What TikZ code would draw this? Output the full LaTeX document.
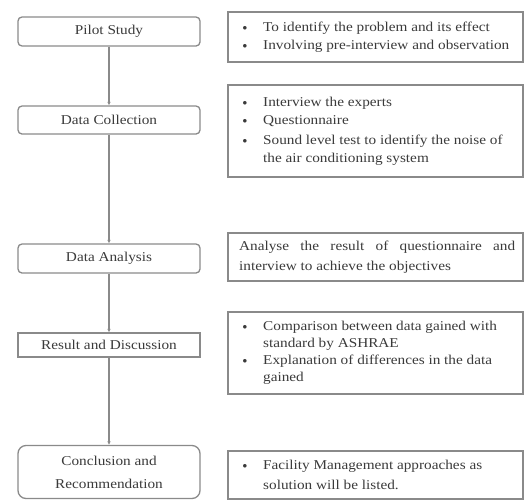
\documentclass[tikz,border=0pt]{standalone}
\usepackage{fontspec}
\setmainfont{Liberation Serif}[FakeStretch=1.13]
\usetikzlibrary{arrows.meta}
\definecolor{edge}{HTML}{8A8A8A}
\definecolor{ink}{HTML}{3A3A3A}
\begin{document}
\begin{tikzpicture}[x=1pt,y=-1pt,
  stage/.style={draw=edge,line width=1.3pt,rounded corners=4pt,minimum width=182pt,inner sep=0pt,
    text=ink,font=\fontsize{13.5}{15}\selectfont,align=center},
  info/.style={draw=edge,line width=1.3pt,minimum width=295pt,inner sep=0pt},
  txt/.style={anchor=west,inner sep=0pt,text=ink,font=\fontsize{13.5}{15}\selectfont},
  bul/.style={inner sep=0pt,text=ink,font=\fontsize{9}{10}\selectfont},
  flow/.style={draw=edge,line width=1.3pt,-{Latex[length=3.5pt,width=3.5pt]}}]
\useasboundingbox (0,0) rectangle (527,501);
% left stages
\node[stage,minimum height=29pt] (pilot) at (109,31.5) {Pilot Study};
\node[stage,minimum height=28pt] (collect) at (109,120) {Data Collection};
\node[stage,minimum height=29pt] (analysis) at (109,258.5) {Data Analysis};
\node[stage,minimum height=24pt,rounded corners=0pt] (result) at (109,345) {Result and Discussion};
\node[stage,minimum height=53pt,rounded corners=8pt] (concl) at (109,472) {Conclusion and\\[8pt]Recommendation};
\draw[flow] (pilot.south) -- (collect.north);
\draw[flow] (collect.south) -- (analysis.north);
\draw[flow] (analysis.south) -- (result.north);
\draw[flow] (result.south) -- (concl.north);
% right boxes
\node[info,minimum height=50pt] (r1) at (375.5,37) {};
\node[info,minimum height=92pt] (r2) at (375.5,131) {};
\node[info,minimum height=48pt] (r3) at (375.5,257) {};
\node[info,minimum height=82pt] (r4) at (375.5,353) {};
\node[info,minimum height=48pt] (r5) at (375.5,475) {};
% box 1
\node[bul] (b11) at (245,28) {$\bullet$};
\node[txt] (t11) at (263,28) {To identify the problem and its effect};
\node[bul] (b12) at (245,46) {$\bullet$};
\node[txt] (t12) at (263,46) {Involving pre-interview and observation};
% box 2
\node[bul] (b21) at (245,103) {$\bullet$};
\node[txt] (t21) at (263,103) {Interview the experts};
\node[bul] (b22) at (245,121) {$\bullet$};
\node[txt] (t22) at (263,121) {Questionnaire};
\node[bul] (b23) at (245,141) {$\bullet$};
\node[txt] (t23) at (263,141) {Sound level test to identify the noise of};
\node[txt] (t24) at (263,159) {the air conditioning system};
% box 3
\node[txt] (t31) at (239,247) {\makebox[276pt][s]{Analyse the result of questionnaire and}};
\node[txt] (t32) at (239,267) {interview to achieve the objectives};
% box 4
\node[bul] (b41) at (245,327) {$\bullet$};
\node[txt] (t41) at (263,327) {Comparison between data gained with};
\node[txt] (t42) at (263,344) {standard by ASHRAE};
\node[bul] (b43) at (245,361) {$\bullet$};
\node[txt] (t43) at (263,361) {Explanation of differences in the data};
\node[txt] (t44) at (263,378) {gained};
% box 5
\node[bul] (b51) at (245,466) {$\bullet$};
\node[txt] (t51) at (263,466) {Facility Management approaches as};
\node[txt] (t52) at (263,485) {solution will be listed.};
\end{tikzpicture}
\end{document}
